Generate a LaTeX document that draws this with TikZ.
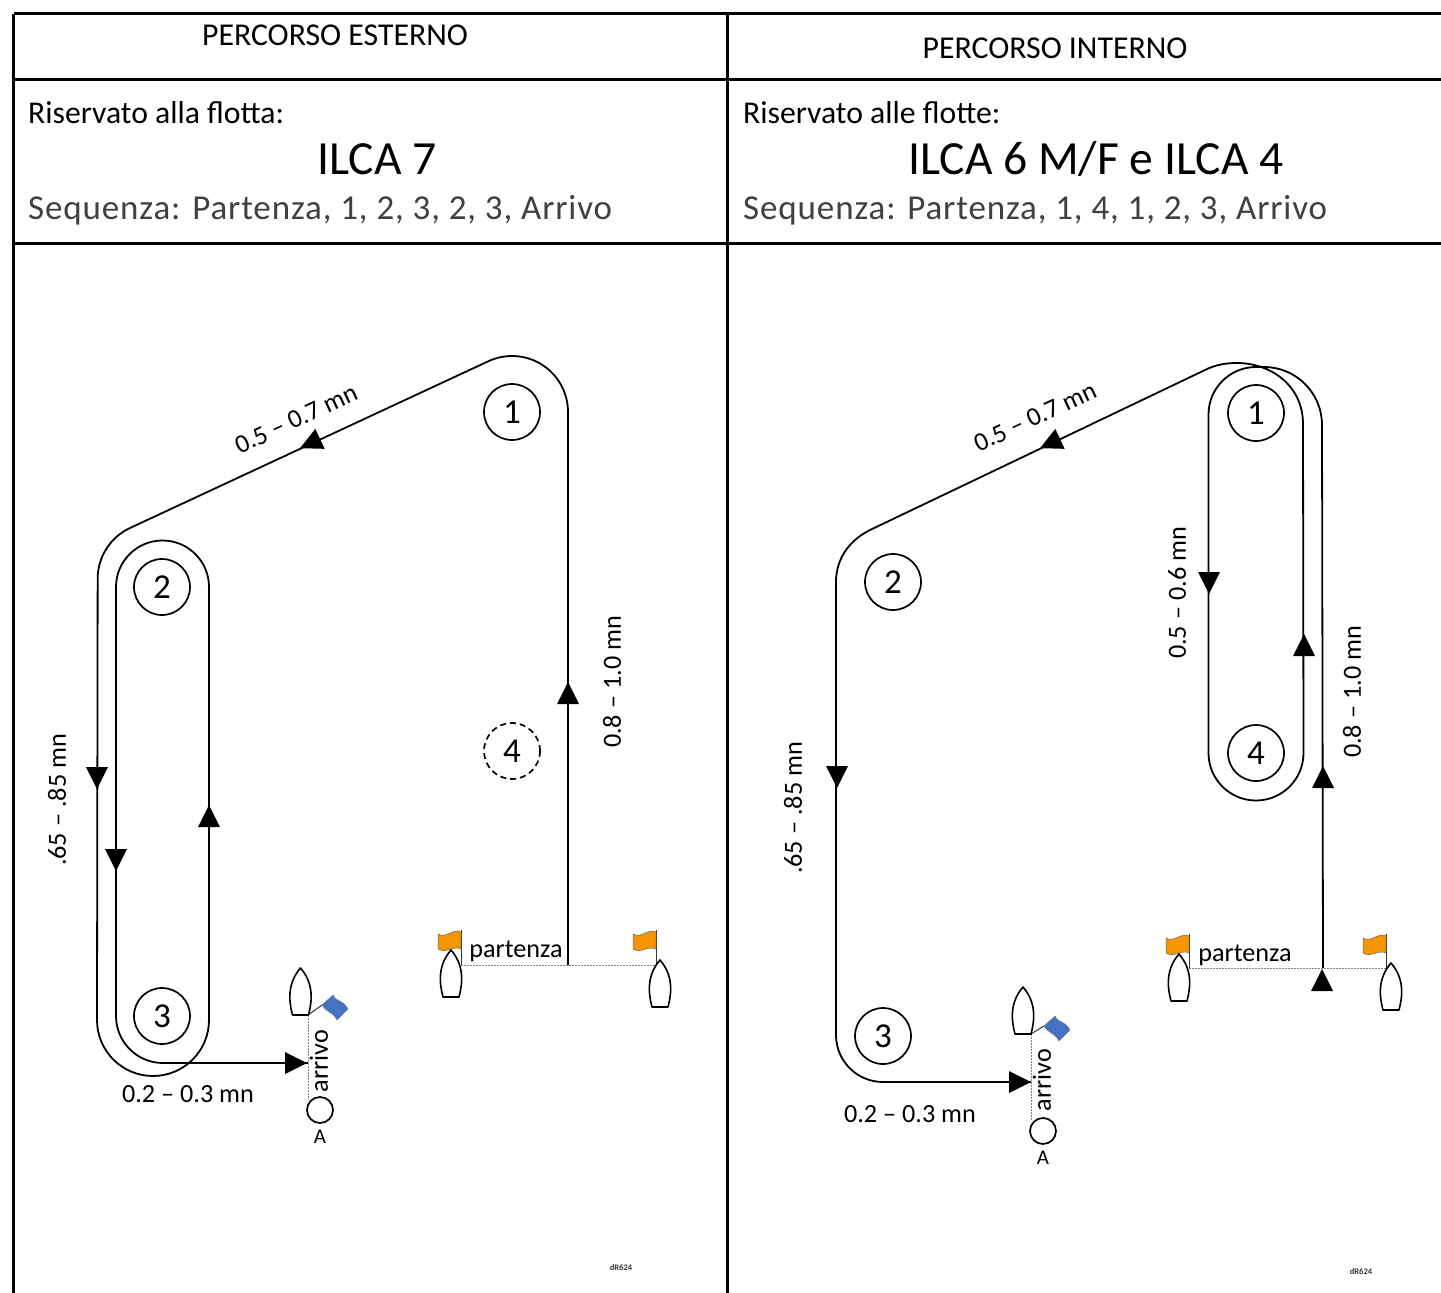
\documentclass[tikz,border=0pt]{standalone}
\usepackage{fontspec}
\setmainfont{Carlito}
\newfontfamily\seqfont[LetterSpace=2.5]{Carlito}
\usetikzlibrary{calc}
\definecolor{flagorange}{HTML}{F79500}
\definecolor{flagblue}{HTML}{4472C4}
\tikzset{
  gridline/.style={line width=3pt,black},
  course/.style={line width=1.8pt,black,line join=round},
  buoy/.style={circle,draw,line width=1.7pt,minimum size=56pt,inner sep=0pt,font=\fontsize{35}{35}\selectfont},
  dbuoy/.style={buoy,dash pattern=on 6pt off 4pt},
  smallbuoy/.style={circle,draw,line width=1.7pt,minimum size=26pt,inner sep=0pt,fill=white},
  lab/.style={font=\fontsize{26.2}{26}\selectfont,inner sep=0pt,text=black},
  headtext/.style={font=\fontsize{31.8}{32}\selectfont,inner sep=0pt,anchor=base},
  infotext/.style={font=\fontsize{31.7}{32}\selectfont,inner sep=0pt,anchor=base west},
  fleet/.style={font=\fontsize{47.6}{48}\selectfont,inner sep=0pt,anchor=base},
  seqtext/.style={font=\seqfont\fontsize{35}{35}\selectfont,inner sep=0pt,anchor=base west,text=black!75},
  tinylab/.style={font=\bfseries\fontsize{8.5}{8.5}\selectfont,inner sep=0pt,text=black!80},
  dotline/.style={line width=.8pt,black!50,dash pattern=on 2pt off 1pt},
  pole/.style={line width=1pt,black!80},
  hull/.style={line width=1.6pt,black,fill=white,line join=round},
}
\newcommand{\arrowhd}[3]{\fill[black,shift={(#1,#2)},rotate=-#3] (11,0) -- (-11,11) -- (-11,-11) -- cycle;}
\newcommand{\boat}[2]{\draw[hull,shift={(#1,#2)}] (-8,47) .. controls (-12,32) and (-13,15) .. (0,0) .. controls (13,15) and (12,32) .. (8,47) -- cycle;}
\newcommand{\oflag}[2]{\fill[flagorange,draw=black!60,line width=.5pt,shift={(#1,#2)}] (-23,3) .. controls (-15,8) and (-8,-3) .. (0,1) -- (0,18) .. controls (-8,14) and (-15,23) .. (-23,18) -- cycle;}
\newcommand{\bflag}[2]{\fill[flagblue,draw=black!50,line width=.5pt,shift={(#1,#2)}] (0,0) -- (11,-10) .. controls (15,-2) and (21,-6) .. (26,4) -- (15,15) .. controls (10,6) and (6,9) .. (0,0) -- cycle;}
\begin{document}
\begin{tikzpicture}[x=1pt,y=-1pt]
\useasboundingbox (0,0) rectangle (1441,1293);
% table
\coordinate (tl) at (13.5,13.5); \coordinate (tr) at (1441,13.5);
\coordinate (ml) at (13.5,79); \coordinate (mr) at (1441,79);
\coordinate (nl) at (13.5,243); \coordinate (nr) at (1441,243);
\coordinate (bl) at (13.5,1293); \coordinate (bm) at (727.5,1293); \coordinate (tm) at (727.5,13.5);
\draw[gridline] (tl) -- (tr) (ml) -- (mr) (nl) -- (nr) (tl) -- (bl) (tm) -- (bm);
\node[headtext] (t1) at (335,45) {PERCORSO ESTERNO};
\node[headtext] (t2) at (1055,58) {PERCORSO INTERNO};
\node[infotext] (r1) at (28,123) {Riservato alla flotta:};
\node[infotext] (r2) at (743,123) {Riservato alle flotte:};
\node[fleet] (f1) at (377,174) {ILCA 7};
\node[fleet] (f2) at (1096,174) {ILCA 6 M/F e ILCA 4};
\node[seqtext] (s1) at (28,219) {Sequenza: Partenza, 1, 2, 3, 2, 3, Arrivo};
\node[seqtext] (s2) at (743,219) {Sequenza: Partenza, 1, 4, 1, 2, 3, Arrivo};

% LEFT course
\coordinate (Lstart) at (568,965);
\coordinate (Lfin) at (308,1063);
\draw[course] (Lstart) -- (568,412)
  arc[start angle=0,end angle=-115,radius=56]
  -- (130,528)
  arc[start angle=-115,end angle=-180,radius=56]
  -- (97,1020)
  arc[start angle=180,end angle=0,radius=56]
  -- (209,587)
  arc[start angle=0,end angle=-180,radius=46.5]
  -- (116,1016)
  arc[start angle=180,end angle=90,radius=47]
  -- (Lfin);
\arrowhd{310}{443.5}{155}
\arrowhd{97}{778}{90}
\arrowhd{116}{860}{90}
\arrowhd{209}{816}{-90}
\arrowhd{568}{693}{-90}
\arrowhd{296}{1063}{0}
\node[buoy] (L1) at (512,412) {1};
\node[buoy] (L2) at (162,587) {2};
\node[buoy] (L3) at (162,1016) {3};
\node[dbuoy] (L4) at (512,751) {4};
\node[lab,rotate=25] (La) at (296,419) {0.5 – 0.7 mn};
\node[lab,rotate=90] (Lb) at (612,682) {0.8 – 1.0 mn};
\node[lab,rotate=90] (Lc) at (57,800) {.65 – .85 mn};
\node[lab] (Ld) at (188,1094) {0.2 – 0.3 mn};
% left start
\coordinate (LS1) at (461,965); \coordinate (LS2) at (656,965);
\draw[dotline] (LS1) -- (LS2);
\draw[pole] (461,930) -- (LS1);
\draw[pole] (656,930) -- (LS2);
\oflag{461}{931}
\oflag{656}{931}
\boat{451}{950}
\boat{660}{960}
\node[lab,anchor=base] (Lp) at (516,957) {partenza};
% left finish
\node[smallbuoy] (LA) at (320,1110) {};
\coordinate (LF1) at (308,1015);
\draw[dotline] (LF1) -- (308,1100);
\draw[pole] (LF1) -- (322,1005);
\boat{300.5}{968}
\bflag{322}{1005}
\node[lab,rotate=90] (Lar) at (319,1061) {arrivo};
\node[lab,font=\fontsize{21}{21}\selectfont] (LAt) at (320,1137) {A};
\node[tinylab] (Ldr) at (621,1268) {dR624};

% RIGHT course
\coordinate (Rstart) at (1323,968);
\coordinate (Rfin) at (1031,1082);
\draw[course] (Rstart) -- (1322,425)
  arc[start angle=0,end angle=-90,radius=58]
  -- (1256,367)
  arc[start angle=-90,end angle=-180,radius=47.5]
  -- (1208.5,753)
  arc[start angle=180,end angle=0,radius=47.5]
  -- (1303,424)
  .. controls (1303,385) and (1270,363) .. (1237,363)
  .. controls (1225,363) and (1215,365) .. (1205,370)
  -- (870,530)
  .. controls (848,541) and (836,560) .. (836,582)
  -- (836,1035)
  arc[start angle=180,end angle=90,radius=47]
  -- (Rfin);
\arrowhd{1050}{443.5}{155}
\arrowhd{837}{777}{90}
\arrowhd{1209}{583}{90}
\arrowhd{1304}{645}{-90}
\arrowhd{1323}{777}{-90}
\arrowhd{1322}{980}{-90}
\arrowhd{1020}{1082}{0}
\node[buoy] (R1) at (1256,413) {1};
\node[buoy] (R2) at (893,582) {2};
\node[buoy] (R3) at (883,1036) {3};
\node[buoy] (R4) at (1256,753) {4};
\node[lab,rotate=25] (Ra) at (1035,417) {0.5 – 0.7 mn};
\node[lab,rotate=90] (Rb) at (1352,692) {0.8 – 1.0 mn};
\node[lab,rotate=90] (Rc) at (793,808) {.65 – .85 mn};
\node[lab,rotate=90] (Re) at (1177,593) {0.5 – 0.6 mn};
\node[lab] (Rd) at (910,1114) {0.2 – 0.3 mn};
% right start
\coordinate (RS1) at (1189,968); \coordinate (RS2) at (1386,968);
\draw[dotline] (RS1) -- (RS2);
\draw[pole] (1189,934) -- (RS1);
\draw[pole] (1386,934) -- (RS2);
\oflag{1189}{935}
\oflag{1386}{935}
\boat{1179}{954}
\boat{1391}{963}
\node[lab,anchor=base] (Rp) at (1245,961) {partenza};
% right finish
\node[smallbuoy] (RA) at (1043,1131) {};
\coordinate (RF1) at (1031,1034);
\draw[dotline] (RF1) -- (1031,1121);
\draw[pole] (RF1) -- (1044,1026);
\boat{1023}{987}
\bflag{1044}{1026}
\node[lab,rotate=90] (Rar) at (1042,1080) {arrivo};
\node[lab,font=\fontsize{21}{21}\selectfont] (RAt) at (1043,1158) {A};
\node[tinylab] (Rdr) at (1361,1272) {dR624};
\end{tikzpicture}
\end{document}
